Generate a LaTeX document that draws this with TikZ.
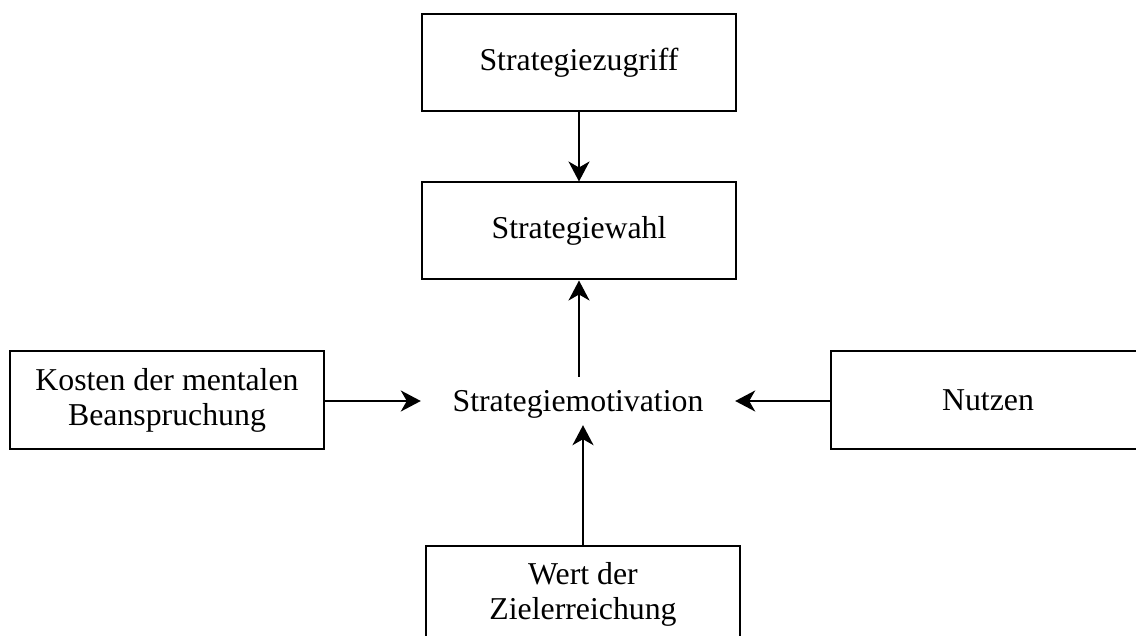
\documentclass[tikz,border=0pt]{standalone}
\usepackage{fontspec}
\setmainfont{Liberation Serif}
\usetikzlibrary{arrows.meta}
\begin{document}
\begin{tikzpicture}[x=1pt,y=-1pt,
  every node/.style={font=\fontsize{31.8}{35}\selectfont, align=center},
  box/.style={draw, line width=2pt, minimum width=314pt, minimum height=97pt, inner sep=0pt},
  link/.style={line width=2pt, -{Stealth[length=20pt,width=21pt,inset=6pt]}}]
  \useasboundingbox (0,0) rectangle (1136,636);
  \clip (0,0) rectangle (1136,636);
  \node[box] (zugriff) at (579,62.5) {Strategiezugriff};
  \node[box] (wahl) at (579,231) {Strategiewahl};
  \node[inner sep=0pt, minimum width=314pt, minimum height=48pt,
        text height=26pt, text depth=6pt] (motiv) at (578,401) {Strategiemotivation};
  \node[box] (kosten) at (167,400) {\raisebox{-2pt}{Kosten der mentalen}\\\raisebox{-2pt}{Beanspruchung}};
  \node[box] (nutzen) at (988,400) {Nutzen};
  \node[box] (wert) at (583,594) {Wert der\\Zielerreichung};
  \draw[link] (zugriff.south) -- (wahl.north);
  \draw[link] (wahl.south |- motiv.north) -- (wahl.south);
  \draw[link] (kosten.east |- motiv.west) -- (motiv.west);
  \draw[link] (nutzen.west |- motiv.east) -- (motiv.east);
  \draw[link] (wert.north) -- (wert.north |- motiv.south);
\end{tikzpicture}
\end{document}
